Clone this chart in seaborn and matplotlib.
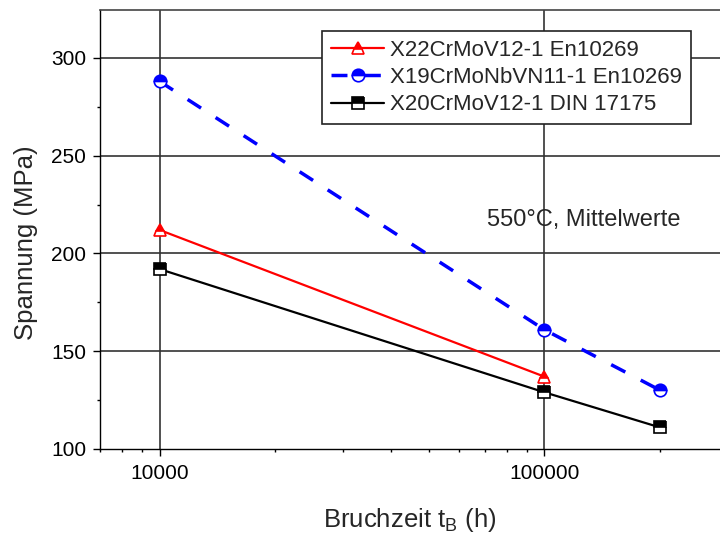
import matplotlib
matplotlib.use("Agg")
import matplotlib.pyplot as plt
import matplotlib.ticker as mticker
import seaborn as sns
import pandas as pd

# Data
series_names = ["X22CrMoV12-1 En10269", "X19CrMoNbVN11-1 En10269", "X20CrMoV12-1 DIN 17175"]
x_red = [10000, 100000]
y_red = [212, 137]
x_blue = [10000, 100000, 200000]
y_blue = [288, 161, 130]
x_black = [10000, 100000, 200000]
y_black = [192, 129, 111]
x_ticks = [10000, 100000]
x_ticklabels = ["10000", "100000"]
y_ticks = [100, 150, 200, 250, 300]

sns.set_theme(style="white")
plt.rcParams['font.family'] = ['Liberation Sans', 'DejaVu Sans']
plt.rcParams['mathtext.fontset'] = 'custom'
plt.rcParams['mathtext.rm'] = 'Liberation Sans'

fig = plt.figure(figsize=(7.2, 5.35), dpi=100)
ax = fig.add_axes([100/720, 1 - 449/535, 620/720, 439/535])

ax.set_xscale('log')
ax.set_xlim(7000, 286000)
ax.set_ylim(100, 324.5)

# grid
for yv in [150, 200, 250, 300]:
    ax.axhline(yv, color='#333333', lw=1.2, zorder=0)
for xv in x_ticks:
    ax.axvline(xv, color='#333333', lw=1.2, zorder=0)

common = dict(fillstyle='top', markerfacecoloralt='white', markersize=9, markeredgewidth=1.2)
df_r = pd.DataFrame({"x": x_red, "y": y_red})
df_b = pd.DataFrame({"x": x_blue, "y": y_blue})
df_k = pd.DataFrame({"x": x_black, "y": y_black})
sns.lineplot(data=df_r, x="x", y="y", ax=ax, color='#ff0000', lw=1.6, marker='^',
             markeredgecolor='#ff0000', label=series_names[0], zorder=3, **common)
sns.lineplot(data=df_b, x="x", y="y", ax=ax, color='#0000ff', lw=2.5, marker='o',
             markeredgecolor='#0000ff', label=series_names[1], zorder=3,
             dashes=(4.6, 5.0), **common)
sns.lineplot(data=df_k, x="x", y="y", ax=ax, color='#000000', lw=1.6, marker='s',
             markeredgecolor='#000000', label=series_names[2], zorder=3, **common)

ax.xaxis.set_major_locator(mticker.FixedLocator(x_ticks))
ax.xaxis.set_major_formatter(mticker.FixedFormatter(x_ticklabels))
ax.xaxis.set_minor_locator(mticker.LogLocator(base=10, subs=[2, 3, 4, 5, 6, 7, 8, 9]))
ax.xaxis.set_minor_formatter(mticker.NullFormatter())
ax.set_yticks(y_ticks)
ax.yaxis.set_minor_locator(mticker.MultipleLocator(25))

ax.tick_params(axis='both', which='major', direction='out', length=5, width=1,
               labelsize=15, color='black', labelcolor='black', bottom=True, left=True, pad=5)
ax.tick_params(axis='both', which='minor', direction='out', length=2.5, width=1,
               color='black', bottom=True, left=True)
ax.tick_params(axis='x', which='major', pad=6)

for s in ['left', 'bottom']:
    ax.spines[s].set_color('black')
    ax.spines[s].set_linewidth(1.0)
ax.spines['top'].set_color('#444444')
ax.spines['top'].set_linewidth(1.2)
ax.spines['right'].set_visible(False)

ax.set_xlabel(r'Bruchzeit t$_\mathrm{B}$ (h)', fontsize=18.5, labelpad=16)
ax.set_ylabel('Spannung (MPa)', fontsize=18.5)
ax.yaxis.set_label_coords((38 - 100) / 620, 1 - (243 - 10) / 439)

fig.text(487 / 720, 1 - 220 / 535, '550°C, Mittelwerte', fontsize=17, va='center', ha='left')

leg = ax.legend(loc='upper left', bbox_to_anchor=(322 / 720, 1 - 31 / 535),
                bbox_transform=fig.transFigure,
                frameon=True, fontsize=16, fancybox=False, edgecolor='#222222',
                borderpad=0.4, labelspacing=0.28, handlelength=2.4, handletextpad=0.25,
                borderaxespad=0)
leg.get_frame().set_linewidth(1.2)
leg.get_frame().set_alpha(1)

fig.savefig("out.png", dpi=100)
